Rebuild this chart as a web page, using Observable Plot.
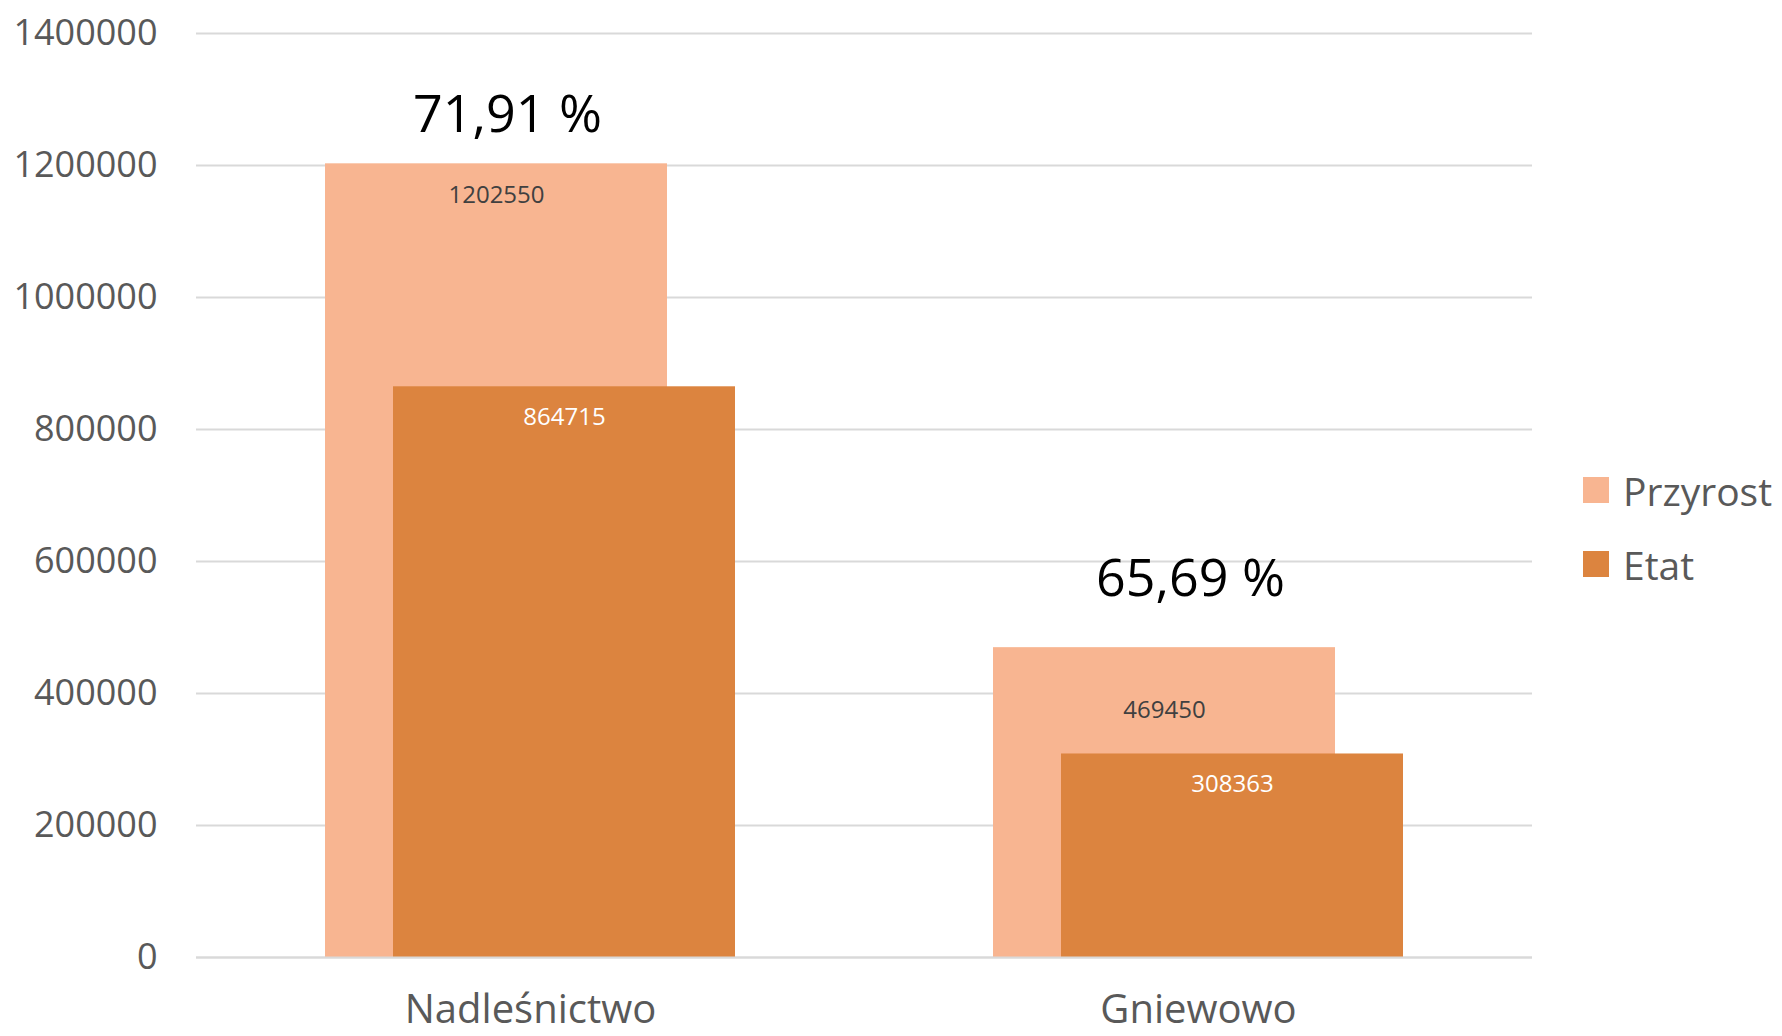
<!DOCTYPE html>
<html>
<head>
<meta charset="utf-8">
<script src="https://cdn.jsdelivr.net/npm/d3@7"></script>
<script src="https://cdn.jsdelivr.net/npm/@observablehq/plot@0.6"></script>
<style>
  html, body { margin: 0; padding: 0; background: #ffffff; }
  #wrap { position: relative; width: 1782px; height: 1036px; font-family: "Open Sans", sans-serif; }
  #legend { position: absolute; left: 1583px; top: 465px; }
  .item { display: flex; align-items: center; height: 50px; margin-bottom: 24px; font-size: 39px; color: #595959; }
  .sw { width: 26px; height: 26px; margin-right: 14px; flex: none; }
</style>
</head>
<body>
<div id="wrap"></div>
<script>
const categories = ["Nadleśnictwo", "Gniewowo"];
const series = ["Przyrost", "Etat"];
const przyrost = [1202550, 469450];
const etat = [864715, 308363];
const yTicks = [0, 200000, 400000, 600000, 800000, 1000000, 1200000, 1400000];
const seriesColors = ["#f8b591", "#dc843f"];

const rows = categories.flatMap((c, i) => [
  {category: c, series: "Przyrost", value: przyrost[i]},
  {category: c, series: "Etat", value: etat[i]}
]);
const pctRows = categories.map((c, i) => ({
  category: c,
  value: przyrost[i],
  label: (etat[i] / przyrost[i] * 100).toFixed(2).replace(".", ",") + " %"
}));

const P = rows.filter(d => d.series === "Przyrost");
const E = rows.filter(d => d.series === "Etat");

const chart = Plot.plot({
  width: 1782,
  height: 1036,
  marginLeft: 196,
  marginRight: 250,
  marginTop: 33,
  marginBottom: 79,
  style: {fontFamily: "Open Sans, sans-serif", background: "#ffffff", overflow: "visible"},
  x: {domain: categories, padding: 0, axis: null},
  y: {domain: [0, 1400000], axis: null},
  color: {domain: series, range: seriesColors},
  marks: [
    Plot.gridY(yTicks, {stroke: "#d9d9d9", strokeOpacity: 1, strokeWidth: 2}),
    Plot.axisY(yTicks, {label: null, tickSize: 0, tickPadding: 39, fontSize: 36, fill: "#595959", tickFormat: d => String(d)}),
    Plot.barY(P, {x: "category", y: "value", fill: "series", insetLeft: 129, insetRight: 197}),
    Plot.barY(E, {x: "category", y: "value", fill: "series", insetLeft: 197, insetRight: 129}),
    Plot.ruleY([0], {stroke: "#d9d9d9", strokeWidth: 2}),
    Plot.text(P.filter(d => d.category === categories[0]), {x: "category", y: "value", text: d => String(d.value), dx: -34, dy: 39, lineAnchor: "bottom", fontSize: 24, fill: "#404040"}),
    Plot.text(P.filter(d => d.category === categories[1]), {x: "category", y: "value", text: d => String(d.value), dx: -34, dy: 70, lineAnchor: "bottom", fontSize: 24, fill: "#404040"}),
    Plot.text(E, {x: "category", y: "value", text: d => String(d.value), dx: 34, dy: 38, lineAnchor: "bottom", fontSize: 24, fill: "#ffffff"}),
    Plot.text(pctRows.filter(d => d.category === categories[0]), {x: "category", y: "value", text: "label", dx: -23, dy: -32, lineAnchor: "bottom", fontSize: 52, fill: "#000000"}),
    Plot.text(pctRows.filter(d => d.category === categories[1]), {x: "category", y: "value", text: "label", dx: -8, dy: -52, lineAnchor: "bottom", fontSize: 52, fill: "#000000"}),
    Plot.text(categories, {x: d => d, frameAnchor: "bottom", dy: 53, lineAnchor: "middle", fontSize: 40, fill: "#595959"})
  ]
});

const wrap = document.getElementById("wrap");
wrap.appendChild(chart);

const legend = document.createElement("div");
legend.id = "legend";
series.forEach((s, i) => {
  const item = document.createElement("div");
  item.className = "item";
  const sw = document.createElement("span");
  sw.className = "sw";
  sw.style.background = seriesColors[i];
  const t = document.createElement("span");
  t.textContent = s;
  item.appendChild(sw);
  item.appendChild(t);
  legend.appendChild(item);
});
wrap.appendChild(legend);
</script>
</body>
</html>
